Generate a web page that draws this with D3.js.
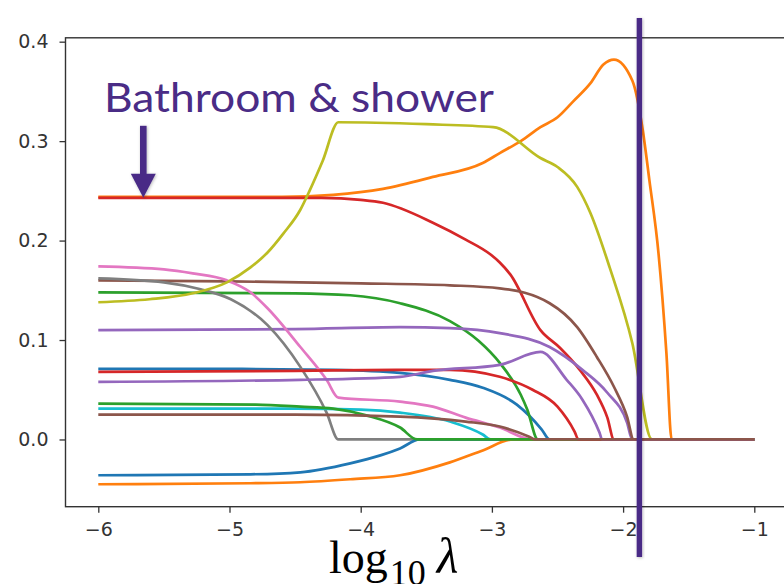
<!DOCTYPE html>
<html>
<head>
<meta charset="utf-8">
<script src="https://cdn.jsdelivr.net/npm/d3@7"></script>
<style>
  html, body { margin: 0; padding: 0; background: #fff; }
  svg { display: block; }
</style>
</head>
<body>
<div id="chart"></div>
<script>
// Lasso coefficient paths against log10(lambda)
const xTicks = [-6, -5, -4, -3, -2, -1];
const yTicks = [0, 0.1, 0.2, 0.3, 0.4];

// one [log10 lambda, coefficient] list per feature
const coefBlueA = [[-6, 0.071], [-5, 0.071], [-4.2, 0.070], [-3.7, 0.067], [-3.32, 0.060], [-3.07, 0.052], [-2.81, 0.035], [-2.62, 0.010], [-2.56, 0], [-1, 0]];
const coefOrangeA = [[-6, 0.244], [-4.6, 0.244], [-4.21, 0.246], [-3.83, 0.252], [-3.45, 0.264], [-3.07, 0.278], [-2.94, 0.288], [-2.78, 0.300], [-2.63, 0.314], [-2.50, 0.324], [-2.38, 0.340], [-2.25, 0.358], [-2.15, 0.377], [-2.07, 0.382], [-1.93, 0.361], [-1.85, 0.311], [-1.80, 0.261], [-1.73, 0.187], [-1.67, 0.087], [-1.63, 0], [-1, 0]];
const coefGreenA = [[-6, 0.148], [-4.5, 0.147], [-4.08, 0.145], [-3.70, 0.137], [-3.32, 0.119], [-3.10, 0.099], [-2.94, 0.077], [-2.78, 0.045], [-2.73, 0.030], [-2.65, 0], [-1, 0]];
const coefRedA = [[-6, 0.243], [-4.3, 0.243], [-4.0, 0.241], [-3.83, 0.238], [-3.45, 0.218], [-3.20, 0.201], [-3.01, 0.186], [-2.94, 0.178], [-2.86, 0.166], [-2.63, 0.110], [-2.48, 0.092], [-2.33, 0.070], [-2.20, 0.045], [-2.12, 0.022], [-2.07, 0], [-1, 0]];
const coefPurpleA = [[-6, 0.110], [-4.5, 0.111], [-3.7, 0.113], [-3.32, 0.112], [-2.94, 0.107], [-2.56, 0.093], [-2.31, 0.070], [-2.12, 0.047], [-1.97, 0.017], [-1.93, 0], [-1, 0]];
const coefBrownA = [[-6, 0.160], [-5, 0.159], [-4, 0.157], [-3.32, 0.155], [-2.94, 0.152], [-2.56, 0.137], [-2.35, 0.113], [-2.20, 0.083], [-2.07, 0.053], [-1.97, 0.023], [-1.92, 0], [-1, 0]];
const coefPink = [[-6, 0.174], [-5.5, 0.171], [-5.28, 0.167], [-5.02, 0.160], [-4.84, 0.148], [-4.71, 0.132], [-4.46, 0.093], [-4.26, 0.060], [-4.17, 0.042], [-3.70, 0.038], [-3.45, 0.033], [-3.20, 0.022], [-2.94, 0.012], [-2.69, 0], [-1, 0]];
const coefGray = [[-6, 0.162], [-5.5, 0.158], [-5.22, 0.151], [-4.99, 0.141], [-4.71, 0.115], [-4.46, 0.073], [-4.26, 0.027], [-4.17, 0], [-1, 0]];
const coefOlive = [[-6, 0.138], [-5.61, 0.141], [-5.28, 0.147], [-5.02, 0.158], [-4.84, 0.173], [-4.71, 0.188], [-4.59, 0.207], [-4.46, 0.231], [-4.39, 0.250], [-4.29, 0.280], [-4.17, 0.319], [-3.5, 0.317], [-2.99, 0.314], [-2.63, 0.283], [-2.50, 0.274], [-2.35, 0.254], [-2.25, 0.228], [-2.10, 0.172], [-1.93, 0.097], [-1.78, 0], [-1, 0]];
const coefCyan = [[-6, 0.031], [-4.5, 0.031], [-4.0, 0.030], [-3.70, 0.027], [-3.32, 0.018], [-3.07, 0.005], [-3.01, 0], [-1, 0]];
const coefBlueB = [[-6, -0.036], [-4.84, -0.035], [-4.46, -0.033], [-4.08, -0.024], [-3.85, -0.016], [-3.70, -0.009], [-3.55, 0], [-1, 0]];
const coefOrangeB = [[-6, -0.045], [-4.84, -0.044], [-4.46, -0.043], [-4.08, -0.040], [-3.70, -0.036], [-3.32, -0.023], [-3.07, -0.011], [-2.84, 0], [-1, 0]];
const coefGreenB = [[-6, 0.036], [-4.8, 0.035], [-4.46, 0.033], [-4.21, 0.031], [-3.95, 0.024], [-3.70, 0.012], [-3.57, 0], [-1, 0]];
const coefRedB = [[-6, 0.068], [-4.5, 0.069], [-3.70, 0.070], [-3.32, 0.070], [-2.94, 0.063], [-2.69, 0.050], [-2.50, 0.033], [-2.37, 0.008], [-2.34, 0], [-1, 0]];
const coefPurpleB = [[-6, 0.058], [-4.46, 0.060], [-3.70, 0.063], [-3.45, 0.069], [-2.94, 0.075], [-2.63, 0.088], [-2.43, 0.060], [-2.31, 0.040], [-2.18, 0.007], [-2.16, 0], [-1, 0]];
const coefBrownB = [[-6, 0.025], [-4.5, 0.025], [-3.70, 0.023], [-3.20, 0.018], [-2.94, 0.013], [-2.72, 0.003], [-2.67, 0], [-1, 0]];

// drawing order follows the default colour cycle
const coefficientPaths = [coefBlueA, coefOrangeA, coefGreenA, coefRedA, coefPurpleA, coefBrownA, coefPink, coefGray, coefOlive, coefCyan,
                          coefBlueB, coefOrangeB, coefGreenB, coefRedB, coefPurpleB, coefBrownB];
const palette = ["#1f77b4", "#ff7f0e", "#2ca02c", "#d62728", "#9467bd", "#8c564b", "#e377c2", "#7f7f7f", "#bcbd22", "#17becf"];

// annotations
const calloutText = "Bathroom & shower";
const calloutLogLambda = -5.657;
const calloutValue = 0.243;
const chosenLogLambda = -1.876;

const W = 784, H = 584;
const frame = { left: 65.5, right: 787.1, top: 37.8, bottom: 506.7 };
const accent = "#4a2c86";

const svg = d3.select("#chart").append("svg")
  .attr("width", W).attr("height", H)
  .attr("viewBox", `0 0 ${W} ${H}`);

const defs = svg.append("defs");
const shadow = defs.append("filter").attr("id", "soft").attr("x", "-50%").attr("y", "-10%").attr("width", "200%").attr("height", "120%");
shadow.append("feDropShadow").attr("dx", 0.8).attr("dy", 0.8).attr("stdDeviation", 1.4)
  .attr("flood-color", "#000").attr("flood-opacity", 0.28);

const x = d3.scaleLinear().domain([-6.25, -0.75]).range([frame.left, frame.right]);
const y = d3.scaleLinear().domain([-0.0676, 0.4039]).range([frame.bottom, frame.top]);

const tickFont = "'DejaVu Sans', sans-serif";

// axes
const yAxis = svg.append("g")
  .attr("transform", `translate(${frame.left},0)`)
  .call(d3.axisLeft(y).tickValues(yTicks).tickFormat(d3.format(".1f")).tickSize(6).tickPadding(11));
const xAxis = svg.append("g")
  .attr("transform", `translate(0,${frame.bottom})`)
  .call(d3.axisBottom(x).tickValues(xTicks).tickFormat(d3.format("d")).tickSize(6).tickPadding(10));

[yAxis, xAxis].forEach(g => {
  g.select(".domain").remove();
  g.selectAll(".tick line").attr("stroke", "#333").attr("stroke-width", 1.3);
  g.selectAll(".tick text").attr("fill", "#333").style("font-family", tickFont).style("font-size", "19px");
});

// plot frame
svg.append("rect")
  .attr("x", frame.left).attr("y", frame.top)
  .attr("width", frame.right - frame.left).attr("height", frame.bottom - frame.top)
  .attr("fill", "none").attr("stroke", "#333").attr("stroke-width", 1.4);

// coefficient paths
const line = d3.line()
  .x(d => x(d[0]))
  .y(d => y(d[1]))
  .curve(d3.curveMonotoneX);

svg.append("g").selectAll("path")
  .data(coefficientPaths)
  .join("path")
  .attr("d", line)
  .attr("fill", "none")
  .attr("stroke", (d, i) => palette[i % palette.length])
  .attr("stroke-width", 2.7)
  .attr("stroke-linejoin", "round")
  .attr("stroke-linecap", "butt");

// callout text and arrow
svg.append("text")
  .attr("x", 104).attr("y", 112)
  .attr("fill", accent)
  .attr("textLength", 390).attr("lengthAdjust", "spacingAndGlyphs")
  .style("font-family", "Lato, 'Open Sans', sans-serif")
  .style("font-size", "40px")
  .text(calloutText);

const ax = x(calloutLogLambda), tipY = y(calloutValue);
const arrow = svg.append("g").attr("filter", "url(#soft)");
arrow.append("rect")
  .attr("x", ax - 3.3).attr("y", tipY - 72)
  .attr("width", 6.6).attr("height", 50)
  .attr("fill", accent);
arrow.append("path")
  .attr("d", `M${ax - 12.5},${tipY - 24}L${ax + 12.5},${tipY - 24}L${ax},${tipY}Z`)
  .attr("fill", accent);

// chosen lambda marker
svg.append("rect")
  .attr("x", x(chosenLogLambda) - 2.7).attr("y", 18)
  .attr("width", 5.4).attr("height", 539)
  .attr("fill", accent)
  .attr("filter", "url(#soft)");

// x label: log10 lambda
const xlab = svg.append("text")
  .attr("x", 329).attr("y", 573)
  .attr("fill", "#000")
  .style("font-family", "'Liberation Serif', 'Times New Roman', serif")
  .style("font-size", "46px");
xlab.append("tspan").text("log");
xlab.append("tspan").attr("dy", 12).attr("dx", 2).style("font-size", "36px").text("10");
xlab.append("tspan").attr("dy", -12).attr("dx", 11).style("font-style", "italic").style("font-size", "50px").text("λ");
</script>
</body>
</html>
